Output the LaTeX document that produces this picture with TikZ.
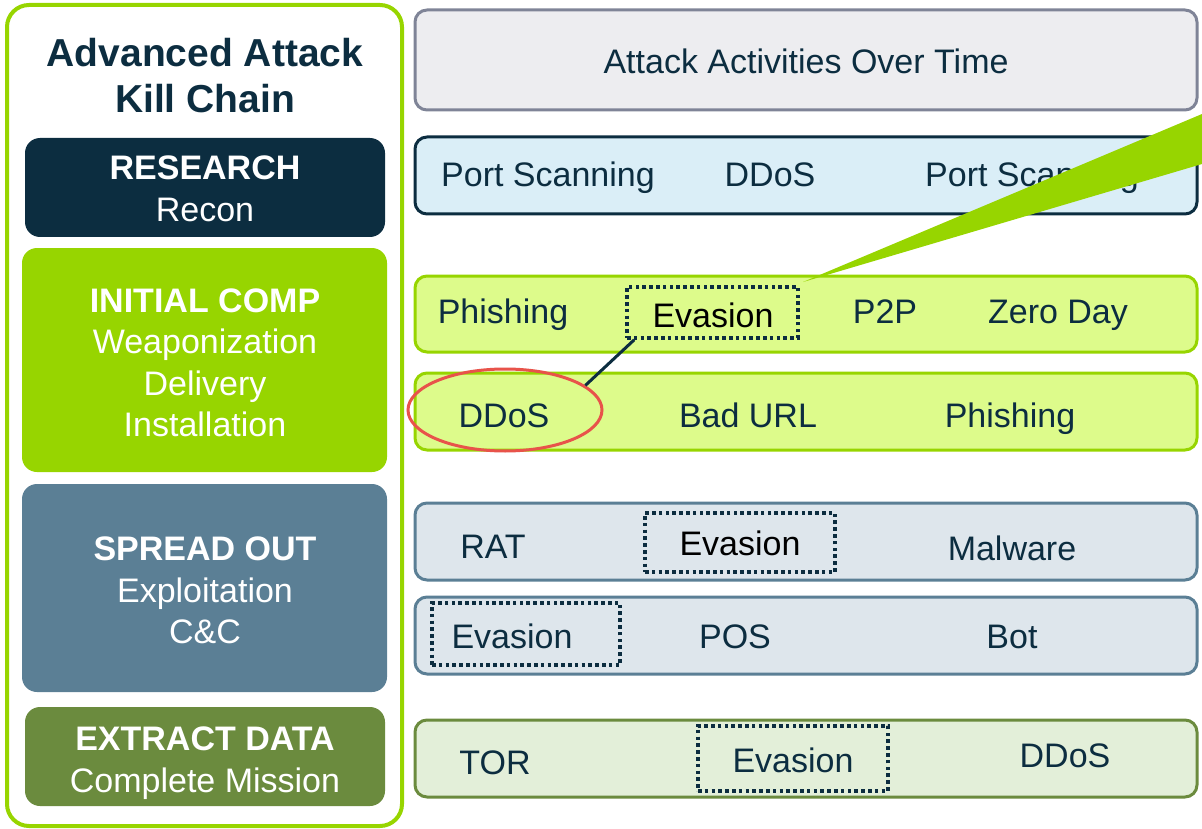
\documentclass[tikz,border=0pt]{standalone}
\usepackage{fontspec}
\setmainfont{Liberation Sans}
\usetikzlibrary{shapes.geometric,calc}
\definecolor{navy}{HTML}{0C2D40}
\definecolor{lime}{HTML}{97D500}
\definecolor{limelight}{HTML}{DDFB8B}
\definecolor{steel}{HTML}{5B7F95}
\definecolor{steellight}{HTML}{DEE6EC}
\definecolor{olive}{HTML}{6B8B3E}
\definecolor{olivelight}{HTML}{E3EFD9}
\definecolor{grayfill}{HTML}{EDEDF0}
\definecolor{grayline}{HTML}{7F8497}
\definecolor{bluelight}{HTML}{DAEEF7}
\definecolor{redline}{HTML}{E8534A}
\tikzset{
  txt/.style={font=\fontsize{34}{41}\selectfont, text=navy, inner sep=0pt, anchor=base},
  ttl/.style={font=\fontsize{39}{46}\selectfont\bfseries, text=navy, inner sep=0pt, anchor=base},
  phhead/.style={font=\fontsize{34}{41}\selectfont\bfseries, text=white, inner sep=0pt, anchor=base},
  phsub/.style={font=\fontsize{34}{41}\selectfont, text=white, inner sep=0pt, anchor=base},
  phasebox/.style={rounded corners=15pt, inner sep=0pt, draw=none},
  rowbox/.style={rounded corners=12pt, inner sep=0pt, line width=3pt, minimum width=782pt},
  evbox/.style={draw=navy, line width=3.6pt, dash pattern=on 3.6pt off 3.2pt, inner sep=0pt}
}
\begin{document}
\begin{tikzpicture}[x=1pt,y=-1pt]
\useasboundingbox (0,0) rectangle (1202,829);
% left frame
\node[draw=lime, line width=4pt, rounded corners=22pt, minimum width=395pt, minimum height=821pt, inner sep=0pt] (frame) at (204.5,415.5) {};
\node[ttl] (t1) at (205,67) {Advanced Attack};
\node[ttl] (t2) at (205,113) {Kill Chain};
% phases
\node[phasebox, fill=navy, minimum width=360pt, minimum height=99pt] (research) at (205,187.5) {};
\node[phhead] (research1) at (205,180) {RESEARCH};
\node[phsub] (research2) at (205,222) {Recon};
\node[phasebox, fill=lime, minimum width=365pt, minimum height=224pt] (initial) at (204.5,360) {};
\node[phhead] (initial1) at (205,312) {INITIAL COMP};
\node[phsub] (initial2) at (205,353) {Weaponization};
\node[phsub] (initial3) at (205,395) {Delivery};
\node[phsub] (initial4) at (205,436) {Installation};
\node[phasebox, fill=steel, minimum width=365pt, minimum height=208pt] (spread) at (204.5,588) {};
\node[phhead] (spread1) at (205,560) {SPREAD OUT};
\node[phsub] (spread2) at (205,602) {Exploitation};
\node[phsub] (spread3) at (205,643) {C\&C};
\node[phasebox, fill=olive, minimum width=360pt, minimum height=99pt] (extract) at (205,756.5) {};
\node[phhead] (extract1) at (205,750) {EXTRACT DATA};
\node[phsub] (extract2) at (205,792) {Complete Mission};
% rows
\node[rowbox, fill=grayfill, draw=grayline, minimum height=100pt] (r0) at (806,60) {};
\node[txt] (r0t) at (806,74) {Attack Activities Over Time};
\node[rowbox, fill=bluelight, draw=navy, minimum height=77pt] (r1) at (806,175.5) {};
\node[txt] (r1a) at (548,187) {Port Scanning};
\node[txt] (r1b) at (770,187) {DDoS};
\node[txt] (r1c) at (1032,187) {Port Scanning};
\node[rowbox, fill=limelight, draw=lime, minimum height=76pt] (r2) at (806,314) {};
\node[txt] (r2a) at (503,323) {Phishing};
\node[evbox, minimum width=171pt, minimum height=51pt] (ev1) at (712.5,312.5) {};
\node[txt, text=black] (ev1t) at (713,327) {Evasion};
\node[txt] (r2c) at (885,323) {P2P};
\node[txt] (r2d) at (1058,323) {Zero Day};
\node[rowbox, fill=limelight, draw=lime, minimum height=77pt] (r3) at (806,411.5) {};
\node[txt] (r3a) at (504,427) {DDoS};
\node[txt] (r3b) at (748,427) {Bad URL};
\node[txt] (r3c) at (1010,427) {Phishing};
\node[draw=redline, line width=3pt, ellipse, minimum width=194pt, minimum height=82pt, inner sep=0pt] (ell) at (505,410) {};
\draw[navy, line width=3pt] (ell.17) -- ($(ev1.south west)+(9,0)$);
\node[rowbox, fill=steellight, draw=steel, minimum height=77pt] (r4) at (806,541.5) {};
\node[txt] (r4a) at (493,558) {RAT};
\node[evbox, minimum width=190pt, minimum height=59pt] (ev2) at (740,542.5) {};
\node[txt, text=black] (ev2t) at (740,555) {Evasion};
\node[txt] (r4c) at (1012,560) {Malware};
\node[rowbox, fill=steellight, draw=steel, minimum height=77pt] (r5) at (806,635.5) {};
\node[evbox, minimum width=188pt, minimum height=62pt] (ev3) at (526,634) {};
\node[txt] (ev3t) at (512,648) {Evasion};
\node[txt] (r5b) at (735,648) {POS};
\node[txt] (r5c) at (1012,648) {Bot};
\node[rowbox, fill=olivelight, draw=olive, minimum height=77pt] (r6) at (806,758.5) {};
\node[txt] (r6a) at (495,774) {TOR};
\node[evbox, minimum width=190pt, minimum height=65pt] (ev4) at (793,758.5) {};
\node[txt] (ev4t) at (793,772) {Evasion};
\node[txt] (r6c) at (1065,767) {DDoS};
% green wedge
\fill[lime] (803,282) -- (1202,114) -- (1202,164) -- cycle;
\end{tikzpicture}
\end{document}
